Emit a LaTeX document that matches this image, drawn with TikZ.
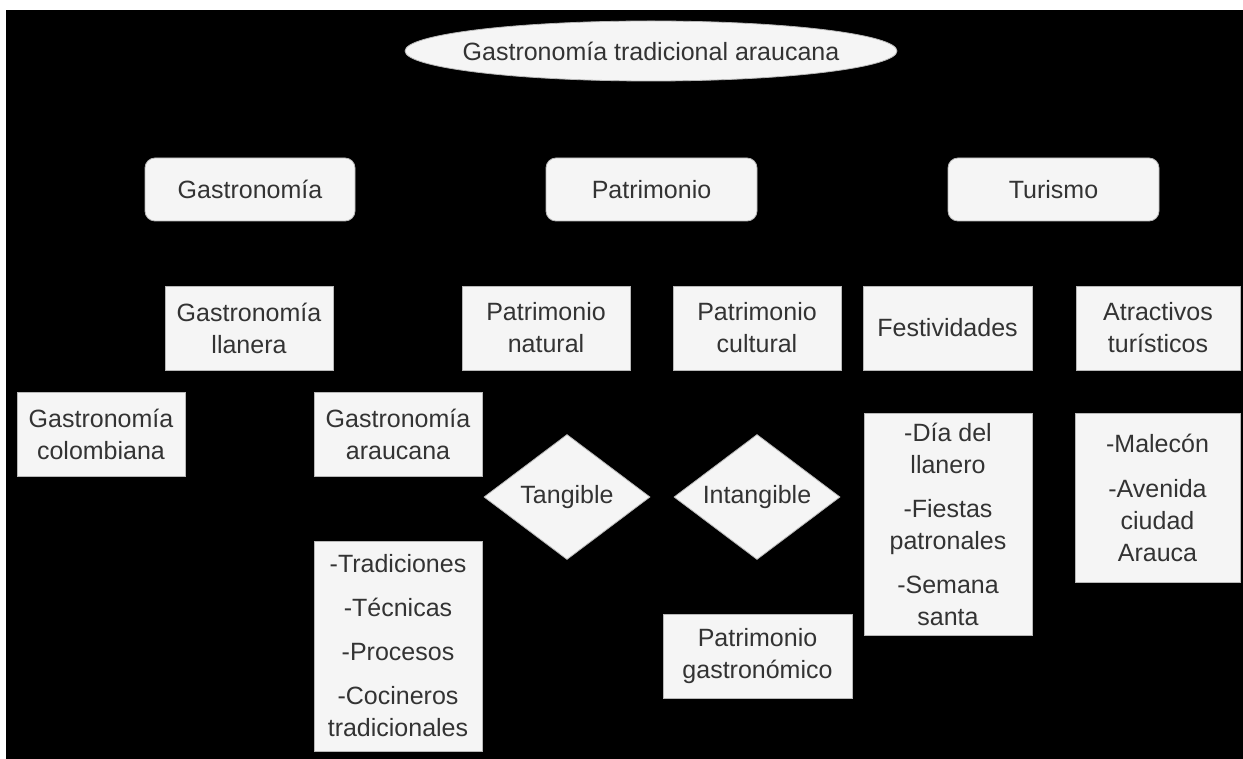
\documentclass[tikz,border=0pt]{standalone}
\usepackage{fontspec}
\setmainfont{Liberation Sans}
\usetikzlibrary{shapes.geometric}
\definecolor{boxfill}{HTML}{F5F5F5}
\definecolor{boxline}{HTML}{B8B8B8}
\definecolor{txt}{HTML}{333333}
\tikzset{
  base/.style={fill=boxfill, draw=boxline, line width=0.8pt, text=txt, align=center, inner sep=2pt,
    font=\fontsize{25}{32}\selectfont},
  txtlbl/.style={text=txt, inner sep=0pt, font=\fontsize{25}{32}\selectfont},
  topbox/.style={base, rectangle, rounded corners=10pt},
  sqbox/.style={base, rectangle},
  dia/.style={base, diamond, inner sep=0pt},
  oval/.style={base, ellipse, inner sep=0pt}
}
\begin{document}
\begin{tikzpicture}[x=1pt,y=-1pt]
\useasboundingbox (0,0) rectangle (1243,759);
\fill[black] (6,10) rectangle (1243,759);

\node[oval, minimum width=492pt, minimum height=60pt,
  label={[txtlbl]center:Gastronomía tradicional araucana}] (title) at (651,51) {};

\node[topbox, minimum width=210pt, minimum height=63pt] (gas) at (250,189.5) {Gastronomía};
\node[topbox, minimum width=211pt, minimum height=63pt] (pat) at (651.5,189.5) {Patrimonio};
\node[topbox, minimum width=211pt, minimum height=63pt] (tur) at (1053.5,189.5) {Turismo};

\node[sqbox, minimum width=168pt, minimum height=84pt] (gll) at (249,328) {Gastronomía\\llanera};
\node[sqbox, minimum width=168pt, minimum height=84pt] (pnat) at (546,328) {Patrimonio\\natural};
\node[sqbox, minimum width=168pt, minimum height=84pt] (pcul) at (757,328) {Patrimonio\\cultural};
\node[sqbox, minimum width=169pt, minimum height=84pt] (fest) at (947.5,328) {Festividades};
\node[sqbox, minimum width=164pt, minimum height=84pt] (atr) at (1158,328) {Atractivos\\turísticos};

\node[sqbox, minimum width=168pt, minimum height=84pt] (gcol) at (101,434) {Gastronomía\\colombiana};
\node[sqbox, minimum width=168pt, minimum height=84pt] (gara) at (398,434) {Gastronomía\\araucana};

\node[dia, minimum width=166pt, minimum height=125pt,
  label={[txtlbl]center:Tangible}] (tang) at (567,497) {};
\node[dia, minimum width=166pt, minimum height=125pt,
  label={[txtlbl]center:Intangible}] (intang) at (757,497) {};

\node[sqbox, minimum width=168pt, minimum height=210pt] (trad) at (398,646)
  {-Tradiciones\\[12pt]-Técnicas\\[12pt]-Procesos\\[12pt]-Cocineros\\tradicionales};
\node[sqbox, minimum width=189pt, minimum height=84pt] (pgas) at (757.5,656) {Patrimonio\\gastronómico};
\node[sqbox, minimum width=168pt, minimum height=222pt] (flist) at (948,524)
  {-Día del\\llanero\\[12pt]-Fiestas\\patronales\\[12pt]-Semana\\santa};
\node[sqbox, minimum width=165pt, minimum height=169pt] (alist) at (1157.5,497.5)
  {-Malecón\\[13pt]-Avenida\\ciudad\\Arauca};
\end{tikzpicture}
\end{document}
